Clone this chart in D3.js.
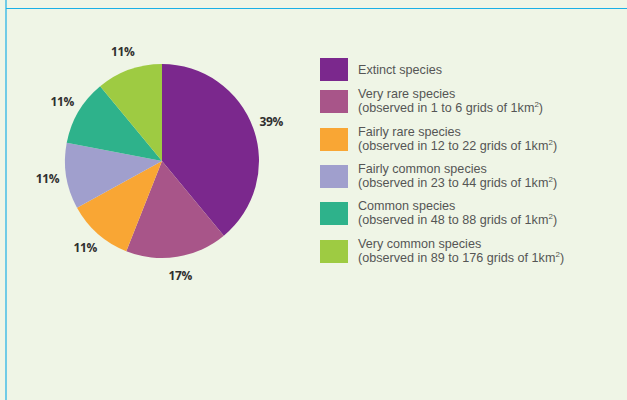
<!DOCTYPE html>
<html><head><meta charset="utf-8">
<script src="https://cdn.jsdelivr.net/npm/d3@7"></script>
<style>
html,body{margin:0;padding:0;background:#eff5e6;}
svg{display:block;}
</style></head>
<body>
<svg id="chart" width="627" height="400"></svg>
<script>
const categories = ["Extinct species","Very rare species","Fairly rare species","Fairly common species","Common species","Very common species"];
const subLabels = ["", "(observed in 1 to 6 grids of 1km", "(observed in 12 to 22 grids of 1km", "(observed in 23 to 44 grids of 1km", "(observed in 48 to 88 grids of 1km", "(observed in 89 to 176 grids of 1km"];
const values = [39, 17, 11, 11, 11, 11];
const colors = ["#7b288d","#a85589","#f9a634","#a09fcd","#2eb28b","#9ecb42"];

const svg = d3.select("#chart");
svg.append("rect").attr("width",627).attr("height",400).attr("fill","#eff5e6");
// frame lines
svg.append("line").attr("x1",6).attr("x2",6).attr("y1",0).attr("y2",400).attr("stroke","#1ab0e6").attr("stroke-width",1.2);
svg.append("line").attr("x1",6).attr("x2",627).attr("y1",8.5).attr("y2",8.5).attr("stroke","#1ab0e6").attr("stroke-width",1.2);

const cx = 162, cy = 161, r = 97, lr = 116;
const pie = d3.pie().sort(null).value(d => d);
const arcs = pie(values);
const arc = d3.arc().innerRadius(0).outerRadius(r);
const labelArc = d3.arc().innerRadius(lr).outerRadius(lr);
const g = svg.append("g").attr("transform",`translate(${cx},${cy})`);
g.selectAll("path").data(arcs).join("path")
  .attr("d", arc).attr("fill",(d,i)=>colors[i]);
g.selectAll("text").data(arcs).join("text")
  .attr("transform", d => `translate(${labelArc.centroid(d)})`)
  .attr("text-anchor","middle").attr("dy","0.36em")
  .attr("font-family","'Open Sans', sans-serif").attr("font-weight","bold")
  .attr("font-size","12px").attr("fill","#2f2f2f").attr("letter-spacing","-0.4")
  .text(d => d.value + "%");

const legTops = [58, 90, 128, 165, 202, 240];
const lg = svg.append("g");
categories.forEach((c,i) => {
  const y = legTops[i];
  lg.append("rect").attr("x",320).attr("y",y).attr("width",28).attr("height",23).attr("fill",colors[i]);
  const font = t => t.attr("font-family","'Liberation Sans', Arial, sans-serif")
    .attr("font-size","12.6px").attr("fill","#555");
  if (!subLabels[i]) {
    font(lg.append("text")).attr("x",358).attr("y", y + 16).text(c);
  } else {
    font(lg.append("text")).attr("x",358).attr("y", y + 7.5).text(c);
    const t2 = font(lg.append("text")).attr("x",358).attr("y", y + 21.6);
    t2.append("tspan").text(subLabels[i]);
    t2.append("tspan").attr("font-size","8px").attr("dy",-4.5).text("2");
    t2.append("tspan").attr("dy",4.5).text(")");
  }
});
</script>
</body></html>
